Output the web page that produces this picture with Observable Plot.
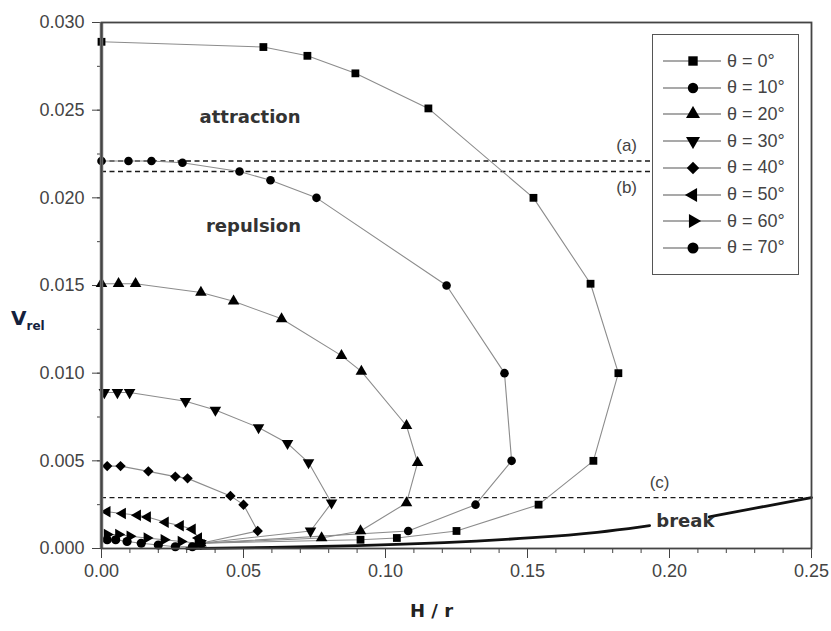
<!DOCTYPE html>
<html>
<head>
<meta charset="utf-8">
<script src="https://cdn.jsdelivr.net/npm/d3@7"></script>
<script src="https://cdn.jsdelivr.net/npm/@observablehq/plot@0.6"></script>
<style>
  body { margin: 0; background: #fff; }
  #wrap { position: relative; width: 831px; height: 631px; overflow: hidden; font-family: "Liberation Sans", Arial, sans-serif; }
  #legend { position: absolute; left: 652px; top: 34px; width: 145px; height: 239px; border: 1.5px solid #555; background: #fff; }
  .row { position: absolute; left: 0; height: 26px; display: flex; align-items: center; }
  .row span { font-size: 18px; color: #444; margin-left: 6px; }
  #ylab { position: absolute; left: 11px; top: 306px; font-family: "DejaVu Sans", sans-serif; font-weight: bold; font-size: 20px; color: #14213d; }
  #ylab sub { font-size: 12px; }
  #xlab { position: absolute; left: 410px; top: 600px; font-family: "DejaVu Sans", sans-serif; font-weight: bold; font-size: 18px; color: #222; }
</style>
</head>
<body>
<div id="wrap">
  <div id="chart"></div>
  <div id="legend"></div>
  <div id="ylab">V<sub>rel</sub></div>
  <div id="xlab">H / r</div>
</div>
<script>
// ---- data ----
const h0  = [0, 0.057, 0.0725, 0.0894, 0.1151, 0.1521, 0.1722, 0.182, 0.1732, 0.1539, 0.125, 0.104, 0.0912, 0.035];
const v0  = [0.0289, 0.0286, 0.0281, 0.0271, 0.0251, 0.0200, 0.0151, 0.0100, 0.0050, 0.0025, 0.0010, 0.0006, 0.0005, 0.0003];
const h10 = [0, 0.0095, 0.0176, 0.0285, 0.0486, 0.0595, 0.0757, 0.1215, 0.1419, 0.1444, 0.1317, 0.108, 0.035];
const v10 = [0.0221, 0.0221, 0.0221, 0.0220, 0.0215, 0.0210, 0.0200, 0.0150, 0.0100, 0.0050, 0.0025, 0.0010, 0.0003];
const h20 = [0, 0.006, 0.012, 0.035, 0.0465, 0.0634, 0.0845, 0.0915, 0.1074, 0.1113, 0.1074, 0.0912, 0.0775, 0.035];
const v20 = [0.0151, 0.0151, 0.0151, 0.0146, 0.0141, 0.0131, 0.0110, 0.0101, 0.0070, 0.0049, 0.0026, 0.0010, 0.0006, 0.0003];
const h30 = [0.001, 0.0056, 0.0099, 0.0296, 0.0401, 0.0553, 0.0655, 0.0729, 0.081, 0.0736, 0.035];
const v30 = [0.0089, 0.0089, 0.0089, 0.0084, 0.0079, 0.0069, 0.0060, 0.0049, 0.0026, 0.0010, 0.0003];
const h40 = [0.002, 0.0067, 0.0165, 0.026, 0.0303, 0.0454, 0.05, 0.055, 0.035];
const v40 = [0.0047, 0.0047, 0.0044, 0.0041, 0.0040, 0.0030, 0.0025, 0.0010, 0.0003];
const h50 = [0.002, 0.0074, 0.0127, 0.0162, 0.0225, 0.0278, 0.032, 0.0342];
const v50 = [0.0021, 0.0020, 0.0019, 0.0018, 0.0015, 0.0013, 0.0011, 0.0006];
const h60 = [0.002, 0.006, 0.010, 0.016, 0.022, 0.028, 0.034];
const v60 = [0.0008, 0.0008, 0.0007, 0.0006, 0.0005, 0.0004, 0.0003];
const h70 = [0.002, 0.005, 0.009, 0.014, 0.020, 0.026, 0.032];
const v70 = [0.0005, 0.0005, 0.0004, 0.0003, 0.0002, 0.0001, 0.0001];

const seriesLabels = ["θ = 0°", "θ = 10°", "θ = 20°", "θ = 30°", "θ = 40°", "θ = 50°", "θ = 60°", "θ = 70°"];

// break curve (two pieces, interrupted by its label)
const breakH = [0.03, 0.06, 0.09, 0.12, 0.154, 0.175, 0.193, 0.214, 0.23, 0.25];
const breakV = [0.0000, 0.00005, 0.00015, 0.0003, 0.00063, 0.0009, 0.0013, 0.0018, 0.0023, 0.0029];
const breakPiece = [1, 1, 1, 1, 1, 1, 1, 2, 2, 2];

// dashed reference levels
const levelNames = ["(a)", "(b)", "(c)"];
const levelV  = [0.0221, 0.0215, 0.0029];
const levelH1 = [0, 0, 0];
const levelH2 = [0.194, 0.194, 0.25];

// annotations
const noteText = ["attraction", "repulsion", "break"];
const noteH    = [0.0523, 0.0535, 0.2056];
const noteV    = [0.0246, 0.0184, 0.00155];
const levelLabH = [0.1849, 0.1849, 0.1965];
const levelLabV = [0.02296, 0.02061, 0.00378];

const xTicks = [0, 0.05, 0.10, 0.15, 0.20, 0.25];
const xMinor = d3.range(0, 26).map(i => i / 100);
const yTicks = [0, 0.005, 0.010, 0.015, 0.020, 0.025, 0.030];
const yMinor = d3.range(0, 13).map(i => i * 0.0025);

// ---- custom symbols ----
const s3 = Math.sqrt(3);
const triDown = { draw(c, size) { const y = Math.sqrt(size / (s3 * 3)); c.moveTo(0, 2 * y); c.lineTo(s3 * y, -y); c.lineTo(-s3 * y, -y); c.closePath(); } };
const triLeft = { draw(c, size) { const y = Math.sqrt(size / (s3 * 3)); c.moveTo(-2 * y, 0); c.lineTo(y, -s3 * y); c.lineTo(y, s3 * y); c.closePath(); } };
const triRight = { draw(c, size) { const y = Math.sqrt(size / (s3 * 3)); c.moveTo(2 * y, 0); c.lineTo(-y, -s3 * y); c.lineTo(-y, s3 * y); c.closePath(); } };

const hs = [h0, h10, h20, h30, h40, h50, h60, h70];
const vs = [v0, v10, v20, v30, v40, v50, v60, v70];
const symbols = ["square", "circle", "triangle", triDown, "diamond2", triLeft, triRight, "circle"];
const radii = [4.4, 4.3, 4.3, 4.3, 4.7, 4.3, 4.3, 4.6];

const series = seriesLabels.map((label, i) => ({
  label, symbol: symbols[i], r: radii[i],
  points: hs[i].map((h, j) => ({ h, v: vs[i][j], label }))
}));
const allPoints = series.flatMap(s => s.points);
const breakData = breakH.map((h, i) => ({ h, v: breakV[i], piece: breakPiece[i] }));
const levels = levelNames.map((n, i) => ({ n, v: levelV[i], h1: levelH1[i], h2: levelH2[i], lh: levelLabH[i], lv: levelLabV[i] }));
const notes = noteText.map((t, i) => ({ t, h: noteH[i], v: noteV[i] }));

const chart = Plot.plot({
  width: 831, height: 631,
  marginLeft: 101, marginRight: 20, marginTop: 22, marginBottom: 83,
  style: { fontFamily: "'Liberation Sans', Arial, sans-serif", fontSize: "18px", color: "#444", background: "#fff" },
  x: { domain: [0, 0.25] },
  y: { domain: [0, 0.03] },
  marks: [
    Plot.axisX({ ticks: xMinor, tickSize: 5, tickFormat: () => "", label: null, stroke: "#444" }),
    Plot.axisX({ ticks: xTicks, tickSize: 10, tickPadding: 6, tickFormat: d3.format(".2f"), label: null, stroke: "#444", fill: "#444" }),
    Plot.axisY({ ticks: yMinor, tickSize: 4, tickFormat: () => "", label: null, stroke: "#444" }),
    Plot.axisY({ ticks: yTicks, tickSize: 9, tickPadding: 8, tickFormat: d3.format(".3f"), label: null, stroke: "#444", fill: "#444" }),
    Plot.ruleY(levels, { y: "v", x1: "h1", x2: "h2", stroke: "#1a1a1a", strokeWidth: 1.4, strokeDasharray: "5,3.5" }),
    Plot.line(breakData, { x: "h", y: "v", z: "piece", stroke: "#111", strokeWidth: 2.8, curve: "basis" }),
    Plot.line(allPoints, { x: "h", y: "v", z: "label", stroke: "#8c8c8c", strokeWidth: 1.1 }),
    ...series.map(s => Plot.dot(s.points, { x: "h", y: "v", symbol: s.symbol, r: s.r, fill: "#000", stroke: "none" })),
    Plot.text(notes, { x: "h", y: "v", text: "t", fontFamily: "'DejaVu Sans', sans-serif", fontWeight: "bold", fontSize: 18, fill: "#333" }),
    Plot.text(levels, { x: "lh", y: "lv", text: "n", fontSize: 17, fill: "#444" }),
    Plot.ruleX([0], { stroke: "#7a7a7a", strokeWidth: 3.5 }),
    Plot.frame({ stroke: "#444", strokeWidth: 1.8 })
  ]
});
document.getElementById("chart").appendChild(chart);

// ---- legend ----
const legend = d3.select("#legend");
series.forEach((s, i) => {
  const row = legend.append("div").attr("class", "row").style("top", (13 + i * 26.7) + "px").style("left", "10px");
  const svg = row.append("svg").attr("width", 58).attr("height", 16);
  svg.append("line").attr("x1", 0).attr("x2", 58).attr("y1", 8).attr("y2", 8).attr("stroke", "#555").attr("stroke-width", 1.2);
  const type = typeof s.symbol === "string"
    ? ({ square: d3.symbolSquare, circle: d3.symbolCircle, triangle: d3.symbolTriangle, diamond2: d3.symbolDiamond2 })[s.symbol]
    : s.symbol;
  svg.append("path").attr("transform", "translate(30,8)").attr("d", d3.symbol(type, Math.PI * (s.r + 0.9) ** 2)()).attr("fill", "#000");
  row.append("span").text(s.label);
});
</script>
</body>
</html>
